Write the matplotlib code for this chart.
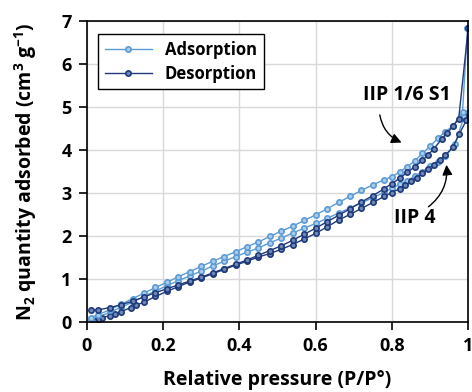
import numpy as np
import matplotlib
matplotlib.use('Agg')
import matplotlib.pyplot as plt

plt.rcParams['font.family'] = ['Open Sans', 'DejaVu Sans']
plt.rcParams['mathtext.fontset'] = 'custom'
plt.rcParams['mathtext.rm'] = 'Open Sans'
plt.rcParams['mathtext.bf'] = 'Open Sans:bold'

# IIP 1/6 S1 - adsorption branch
s1_ads_x = [0.012, 0.03, 0.06, 0.09, 0.12, 0.15, 0.18, 0.21, 0.24, 0.27, 0.30, 0.33, 0.36,
            0.39, 0.42, 0.45, 0.48, 0.51, 0.54, 0.57, 0.60, 0.63, 0.66, 0.69, 0.72, 0.75,
            0.78, 0.80, 0.82, 0.84, 0.86, 0.88, 0.90, 0.92, 0.94, 0.96, 0.985, 0.998]
s1_ads_y = [0.10, 0.17, 0.28, 0.41, 0.54, 0.67, 0.80, 0.92, 1.05, 1.17, 1.29, 1.41, 1.52,
            1.63, 1.75, 1.86, 1.99, 2.11, 2.23, 2.36, 2.49, 2.63, 2.78, 2.92, 3.06, 3.19,
            3.31, 3.38, 3.49, 3.61, 3.75, 3.92, 4.09, 4.27, 4.43, 4.56, 4.88, 6.83]

# IIP 1/6 S1 - desorption branch
s1_des_x = [1.0, 0.975, 0.96, 0.945, 0.93, 0.91, 0.895, 0.88, 0.86, 0.84, 0.82, 0.80, 0.78,
            0.75, 0.72, 0.69, 0.66, 0.63, 0.60, 0.57, 0.54, 0.51, 0.48, 0.45, 0.42, 0.39,
            0.36, 0.33, 0.30, 0.27, 0.24, 0.21, 0.18, 0.15, 0.12, 0.09, 0.06, 0.03, 0.012]
s1_des_y = [6.83, 4.73, 4.55, 4.40, 4.25, 4.03, 3.89, 3.76, 3.61, 3.48, 3.34, 3.22, 3.10,
            2.94, 2.79, 2.63, 2.48, 2.33, 2.18, 2.04, 1.90, 1.77, 1.66, 1.55, 1.44, 1.34,
            1.24, 1.14, 1.04, 0.95, 0.86, 0.77, 0.68, 0.58, 0.48, 0.40, 0.33, 0.28, 0.27]

# IIP 4 - adsorption branch
s4_ads_x = [0.012, 0.03, 0.06, 0.09, 0.12, 0.15, 0.18, 0.21, 0.24, 0.27, 0.30, 0.33, 0.36,
            0.39, 0.42, 0.45, 0.48, 0.51, 0.54, 0.57, 0.60, 0.63, 0.66, 0.69, 0.72, 0.75,
            0.78, 0.80, 0.82, 0.84, 0.86, 0.88, 0.90, 0.92, 0.94, 0.965, 0.99]
s4_ads_y = [0.06, 0.12, 0.22, 0.34, 0.46, 0.59, 0.72, 0.84, 0.96, 1.07, 1.18, 1.30, 1.41,
            1.52, 1.62, 1.72, 1.84, 1.95, 2.07, 2.18, 2.29, 2.41, 2.53, 2.65, 2.77, 2.89,
            3.02, 3.11, 3.20, 3.29, 3.39, 3.50, 3.62, 3.73, 3.85, 4.13, 4.80]

# IIP 4 - desorption branch
s4_des_x = [1.0, 0.995, 0.977, 0.96, 0.94, 0.925, 0.91, 0.895, 0.88, 0.865, 0.85, 0.835,
            0.82, 0.80, 0.78, 0.75, 0.72, 0.69, 0.66, 0.63, 0.60, 0.57, 0.54, 0.51, 0.48,
            0.45, 0.42, 0.39, 0.36, 0.33, 0.30, 0.27, 0.24, 0.21, 0.18, 0.15, 0.13, 0.115,
            0.09, 0.075, 0.06, 0.04, 0.03, 0.02]
s4_des_y = [4.86, 4.69, 4.38, 4.07, 3.88, 3.76, 3.66, 3.56, 3.46, 3.36, 3.27, 3.18,
            3.10, 3.01, 2.92, 2.78, 2.64, 2.50, 2.37, 2.21, 2.06, 1.93, 1.80, 1.69, 1.59,
            1.51, 1.41, 1.32, 1.22, 1.12, 1.02, 0.93, 0.82, 0.71, 0.59, 0.46, 0.39, 0.33,
            0.24, 0.19, 0.14, 0.10, 0.05, 0.02]

ads_color = '#5b9bd5'
des_color = '#1f3a7a'

fig = plt.figure(figsize=(4.72, 3.92), dpi=100)
ax = fig.add_axes([0.184, 0.179, 0.808, 0.767])

ads_style = dict(color=ads_color, lw=1.0, marker='o', ms=3.8, mew=1.2,
                 mfc='#a9cbec', mec=ads_color)
des_style = dict(color=des_color, lw=1.0, marker='o', ms=3.8, mew=1.2,
                 mfc='#6f86b8', mec=des_color)

ax.plot(s4_ads_x, s4_ads_y, **ads_style)
ax.plot(s4_des_x, s4_des_y, **des_style)
ax.plot(s1_ads_x, s1_ads_y, label='Adsorption', **ads_style)
ax.plot(s1_des_x, s1_des_y, label='Desorption', **des_style)

ax.set_xlim(0, 1)
ax.set_ylim(0, 7)
ax.set_xticks(np.arange(0, 1.01, 0.2))
ax.set_xticklabels(['0', '0.2', '0.4', '0.6', '0.8', '1'])
ax.set_yticks(range(0, 8))
ax.grid(True, color='#d9d9d9', lw=1)
ax.set_axisbelow(True)
for sp in ax.spines.values():
    sp.set_color('black')
    sp.set_linewidth(1.2)
ax.tick_params(direction='out', length=6, width=1.2, labelsize=13, pad=5)
for lbl in ax.get_xticklabels() + ax.get_yticklabels():
    lbl.set_fontweight('bold')

ax.set_xlabel('Relative pressure (P/P°)', fontsize=14, fontweight='bold', labelpad=11)
ax.set_ylabel(r'N$_\mathbf{2}$ quantity adsorbed (cm$^\mathbf{3}$ g$^\mathbf{-1}$)',
              fontsize=14, fontweight='bold', labelpad=16)

leg = ax.legend(loc='upper left', bbox_to_anchor=(0.03, 0.957), borderaxespad=0,
                fancybox=False, framealpha=1, edgecolor='black',
                prop={'weight': 'bold', 'size': 12}, handlelength=2.8,
                borderpad=0.4, labelspacing=0.35)
leg.get_frame().set_linewidth(1.0)

arrow = dict(arrowstyle='-|>', color='black', lw=1.0, mutation_scale=15,
             connectionstyle='arc3,rad=0.3')
ax.text(0.84, 5.27, 'IIP 1/6 S1', fontsize=14, fontweight='bold', ha='center', va='center')
ax.annotate('', xy=(0.832, 4.15), xytext=(0.767, 4.88), arrowprops=arrow)
ax.text(0.86, 2.41, 'IIP 4', fontsize=14, fontweight='bold', ha='center', va='center')
ax.annotate('', xy=(0.942, 3.72), xytext=(0.89, 2.64), arrowprops=arrow)

fig.savefig('out.png', dpi=100)
